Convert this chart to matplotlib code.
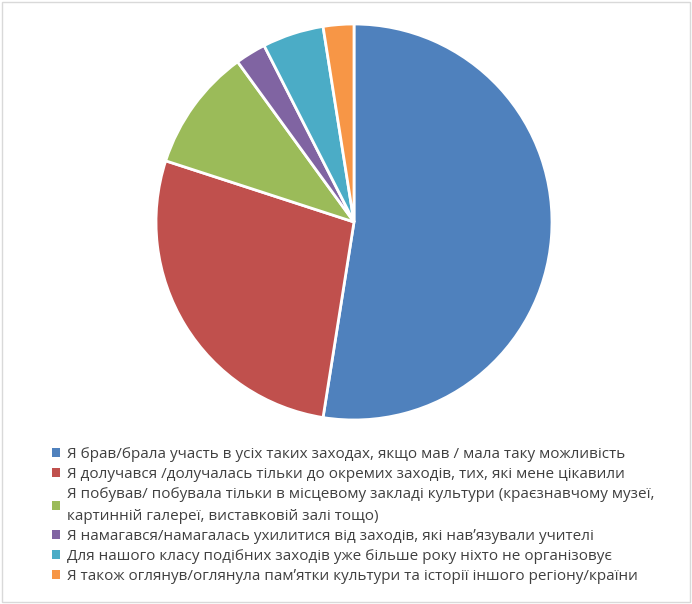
import matplotlib.pyplot as plt
from matplotlib.patches import Patch, Rectangle

labels = [
    'Я брав/брала участь в усіх таких заходах, якщо мав / мала таку можливість',
    'Я долучався /долучалась тільки до окремих заходів, тих, які мене цікавили',
    'Я побував/ побувала тільки в місцевому закладі культури (краєзнавчому музеї,\nкартинній галереї, виставковій залі тощо)',
    'Я намагався/намагалась ухилитися від заходів, які нав\u02bcязували учителі',
    'Для нашого класу подібних заходів уже більше року ніхто не організовує',
    'Я також оглянув/оглянула пам\u02bcятки культури та історії іншого регіону/країни',
]
values = [52.5, 27.5, 10, 2.5, 5, 2.5]
colors = ['#4F81BD', '#C0504D', '#9BBB59', '#8064A2', '#4BACC6', '#F79646']


def plot():
    plt.rcParams['font.family'] = ['Open Sans', 'DejaVu Sans']
    fig = plt.figure(figsize=(6.92, 6.04), dpi=100)

    ax = fig.add_axes([156 / 692, 1 - 420 / 604, 396 / 692, 396 / 604])
    ax.pie(values, colors=colors, startangle=90, counterclock=False,
           wedgeprops=dict(edgecolor='white', linewidth=2))
    ax.set_xlim(-1.0, 1.0)
    ax.set_ylim(-1.0, 1.0)
    ax.set_aspect('equal')
    ax.axis('off')

    handles = [Patch(facecolor=c, edgecolor='none') for c in colors]
    leg = fig.legend(handles, labels, loc='upper left',
                     bbox_to_anchor=(52 / 692, 1 - 447 / 604),
                     frameon=False, fontsize=11, labelcolor='#404040',
                     handlelength=0.55, handleheight=0.55, handletextpad=0.4,
                     labelspacing=0.33, borderpad=0, borderaxespad=0)
    for t in leg.get_texts():
        t.set_linespacing(1.6)

    fig.patches.append(Rectangle((0.003, 0.003), 0.994, 0.994,
                                 transform=fig.transFigure, fill=False,
                                 edgecolor='#D9D9D9', linewidth=1))

    fig.savefig('out.png', dpi=100)


if __name__ == '__main__':
    plot()
